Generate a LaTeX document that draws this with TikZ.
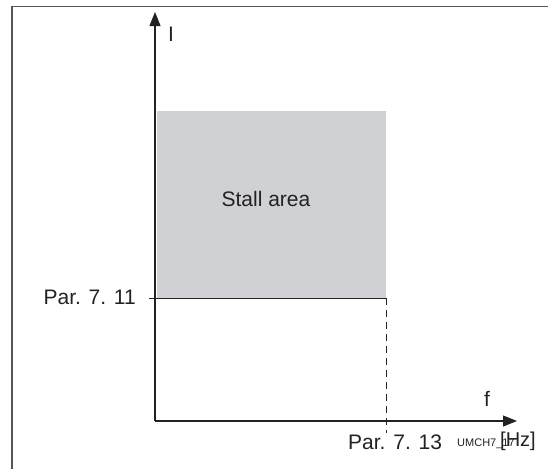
\documentclass[tikz,border=0pt]{standalone}
\usepackage{fontspec}
\setmainfont{Liberation Sans}
\usetikzlibrary{arrows.meta}
\definecolor{ink}{HTML}{222222}
\definecolor{stallgray}{HTML}{D0D1D4}
\definecolor{framegray}{HTML}{555555}
\tikzset{
  axis/.style={draw=ink, line width=1.1pt, -{Triangle[length=14pt,width=11pt]}},
  lbl/.style={text=ink, font=\fontsize{21}{24}\selectfont, inner sep=0pt},
  thinline/.style={draw=ink, line width=1pt},
}
\begin{document}
\begin{tikzpicture}[x=1pt,y=-1pt]
\useasboundingbox (0,0) rectangle (548,469);
% frame
\draw[framegray, line width=1.5pt] (12,469) -- (12,6.5) -- (548,6.5);
% coordinates
\coordinate (O) at (155,421);
\coordinate (ytip) at (155,12);
\coordinate (xtip) at (517,421);
\coordinate (rtl) at (157,111);
\coordinate (rbr) at (386,298);
\coordinate (hl) at (149,298);
\coordinate (dtop) at (386,298);
\coordinate (dbot) at (386,433);
% stall area
\fill[stallgray] (rtl) rectangle (rbr);
\node[lbl] (stall) at (266,199) {Stall area};
% axes
\draw[axis] (O) -- (ytip);
\draw[axis] (O) -- (xtip);
% lines
\draw[thinline] (hl) -- (rbr);
\draw[thinline, dash pattern=on 7pt off 5pt] (dtop) -- (dbot);
% labels
\node[lbl] (I) at (171,34) {I};
\node[lbl] (f) at (487,399) {f};
\node[lbl, anchor=east] (p711) at (136,297) {Par. 7. 11};
\node[lbl, anchor=west] (p713) at (348,442) {Par. 7. 13};
\node[text=ink, font=\fontsize{11}{12}\selectfont, inner sep=0pt, anchor=west] (code) at (457,444) {UMCH7\_17};
\node[lbl, font=\fontsize{20}{24}\selectfont, anchor=west] (hz) at (500,441) {[Hz]};
\end{tikzpicture}
\end{document}
